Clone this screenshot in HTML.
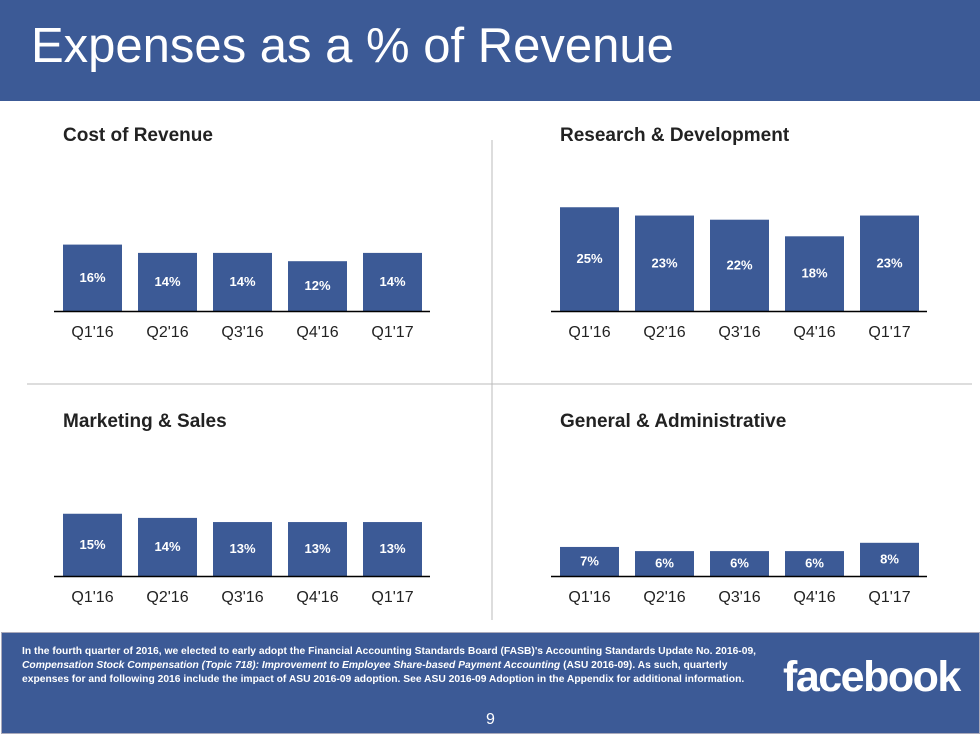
<!DOCTYPE html>
<html><head><meta charset="utf-8"><style>
body{margin:0;width:980px;height:734px;overflow:hidden;background:#fff;font-family:"Liberation Sans",Arial,sans-serif;position:relative}
.hdr{position:absolute;left:0;top:0;width:980px;height:101px;background:#3c5a96}
.hdr h1{position:absolute;left:31px;top:18px;margin:0;color:#fff;font-weight:normal;font-size:49px}
.ftr{position:absolute;left:1px;top:632px;width:977px;height:100px;background:#3c5a96;border:1px solid #aab}
.note{position:absolute;left:20px;top:12px;width:760px;color:#fff;font-size:10.3px;line-height:14px;font-weight:bold;letter-spacing:0;white-space:nowrap}
.logo{position:absolute;left:781px;top:20px;color:#fff;font-weight:bold;font-size:43px;letter-spacing:-1.5px}
.pg{position:absolute;left:484px;top:78px;color:#fff;font-size:16px}
</style></head><body>
<div class="hdr"><h1>Expenses as a % of Revenue</h1></div>
<svg id="c" width="980" height="734" style="position:absolute;left:0;top:0">
<line x1="492" y1="140" x2="492" y2="620" stroke="#bbb"/>
<line x1="27" y1="384" x2="972" y2="384" stroke="#bbb"/>
</svg>
<div class="ftr">
<div class="note">In the fourth quarter of 2016, we elected to early adopt the Financial Accounting Standards Board (FASB)'s Accounting Standards Update No. 2016-09,<br><i>Compensation Stock Compensation (Topic 718): Improvement to Employee Share-based Payment Accounting</i> (ASU 2016-09). As such, quarterly<br>expenses for and following 2016 include the impact of ASU 2016-09 adoption. See ASU 2016-09 Adoption in the Appendix for additional information.</div>
<div class="logo">facebook</div>
<div class="pg">9</div>
</div>
<script>
const categories=["Q1'16","Q2'16","Q3'16","Q4'16","Q1'17"];
const costOfRevenue=[16,14,14,12,14];
const researchDev=[25,23,22,18,23];
const marketingSales=[15,14,13,13,13];
const generalAdmin=[7,6,6,6,8];
const titles=["Cost of Revenue","Research & Development","Marketing & Sales","General & Administrative"];
const svg=document.getElementById('c');
const NS='http://www.w3.org/2000/svg';
const panels=[{x:54,y:311,ty:141,vals:costOfRevenue},{x:551,y:311,ty:141,vals:researchDev},{x:54,y:576,ty:427,vals:marketingSales},{x:551,y:576,ty:427,vals:generalAdmin}];
const scale=4.15;
function yPos(base,v){return base-v*scale;}
function xPos(left,i){return left+9+i*75;}
function mk(tag,attrs){const e=document.createElementNS(NS,tag);for(const k in attrs)e.setAttribute(k,attrs[k]);svg.appendChild(e);return e;}
panels.forEach((p,pi)=>{
 const t=mk('text',{x:p.x+9,y:p.ty,'font-size':19,'font-weight':'bold',fill:'#222'});
 
 
 t.textContent=titles[pi];
 p.vals.forEach((v,i)=>{
  const x=xPos(p.x,i),top=yPos(p.y,v);
  const r=mk('rect',{x:x,y:top,width:59,height:p.y-top,fill:'#3c5a96'});
  
  
  const l=mk('text',{x:x+29.5,y:(top+p.y)/2+4,'font-size':13,'font-weight':'bold',fill:'#fff','text-anchor':'middle'});
  
  
  l.textContent=v+'%';
  const c=mk('text',{x:x+29.5,y:p.y+26,'font-size':16,fill:'#222','text-anchor':'middle'});
  
  
  c.textContent=categories[i];
 });
 const a=mk('line',{x1:p.x,y1:p.y+0.5,x2:p.x+376,y2:p.y+0.5,stroke:'#000','stroke-width':1.5});
 
 
});
</script>
</body></html>
